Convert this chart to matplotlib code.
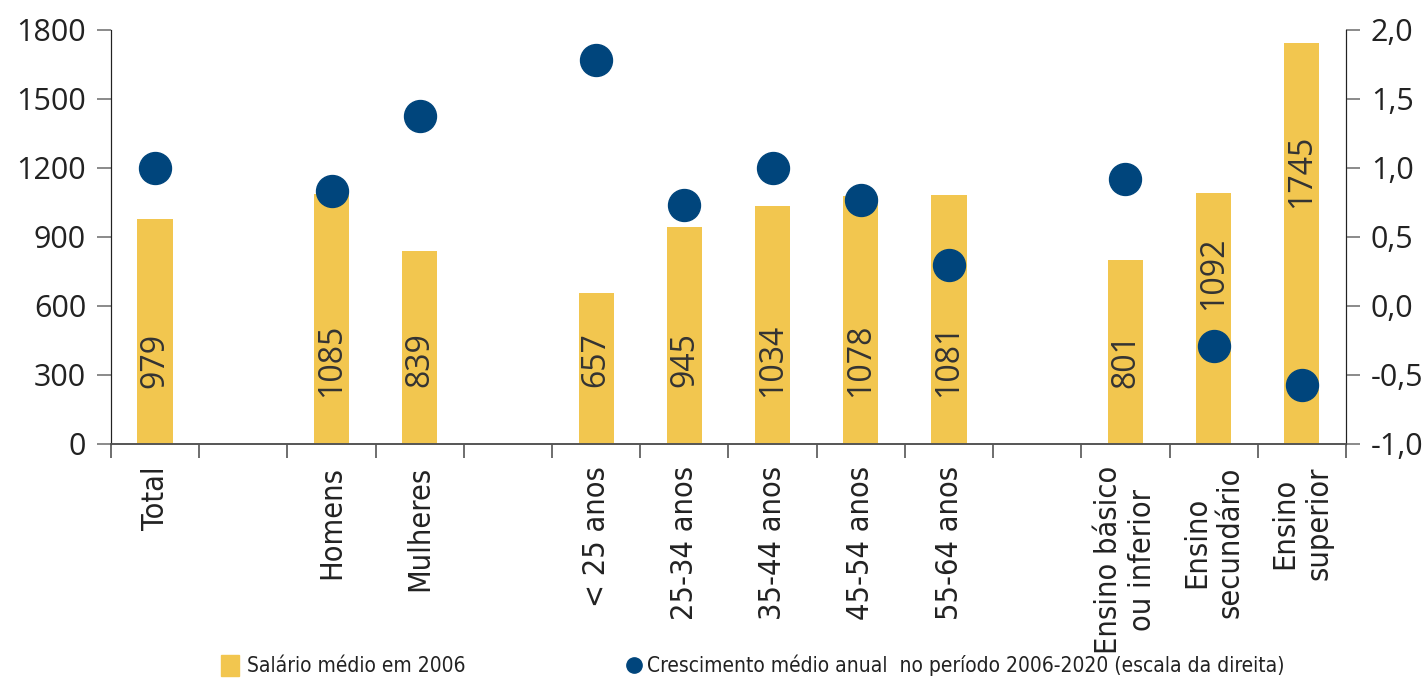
import numpy as np
import matplotlib.pyplot as plt
from matplotlib.lines import Line2D
from matplotlib.patches import Patch

# Data (empty strings / NaN are the gaps between groups)
categories = ['Total', '', 'Homens', 'Mulheres', '', '< 25 anos', '25-34 anos',
              '35-44 anos', '45-54 anos', '55-64 anos', '',
              'Ensino básico\nou inferior', 'Ensino\nsecundário', 'Ensino\nsuperior']
salario = [979, np.nan, 1085, 839, np.nan, 657, 945, 1034, 1078, 1081, np.nan,
           801, 1092, 1745]
crescimento = [1.00, np.nan, 0.83, 1.38, np.nan, 1.78, 0.73, 1.00, 0.77, 0.30,
               np.nan, 0.92, -0.29, -0.57]
left_ticks = [0, 300, 600, 900, 1200, 1500, 1800]
right_ticks = [-1.0, -0.5, 0.0, 0.5, 1.0, 1.5, 2.0]

bar_color = '#F2C64F'
dot_color = '#00457C'
text_color = '#222222'
tick_font = ['Open Sans', 'DejaVu Sans']

x = np.arange(len(categories))

fig = plt.figure(figsize=(14.27, 6.91), dpi=100)
ax = fig.add_axes([0.0778, 0.3575, 0.8654, 0.5991])
ax2 = ax.twinx()

ax.bar(x, salario, width=0.4, color=bar_color, zorder=2)
ax2.plot(x, crescimento, 'o', ms=23, color=dot_color, zorder=3)

# value labels inside the bars
for xi, v, g in zip(x, salario, crescimento):
    if np.isnan(v):
        continue
    ypos = 0.68 * v if g < 0 else 365
    ax.text(xi, ypos, f'{v:.0f}', rotation=90, ha='center', va='center',
            fontsize=23, color='#333333', family=tick_font)

ax.set_xlim(-0.5, len(categories) - 0.5)
ax.set_ylim(0, 1800)
ax2.set_ylim(-1.0, 2.0)

ax.set_yticks(left_ticks)
ax.set_yticklabels([str(t) for t in left_ticks])
ax2.set_yticks(right_ticks)
ax2.set_yticklabels([f'{t:.1f}'.replace('.', ',') for t in right_ticks])

# ticks between categories, labels at category centres
ax.set_xticks(np.arange(-0.5, len(categories), 1.0))
ax.set_xticklabels([])
ax.set_xticks(x, minor=True)
ax.set_xticklabels(categories, minor=True, rotation=90, ha='center', va='top',
                   multialignment='center', fontsize=22, family='DejaVu Sans',
                   fontstretch='condensed', fontweight='light', color=text_color)
ax.tick_params(axis='x', which='minor', length=0, pad=16)
ax.tick_params(axis='x', which='major', length=10, color='#555555', width=1.2)

for a in (ax, ax2):
    a.tick_params(axis='y', length=10, color='#777777', width=1.2, labelsize=22,
                  labelcolor=text_color, pad=8)
    for lab in a.get_yticklabels():
        lab.set_family(tick_font)
    a.spines['top'].set_visible(False)
    a.spines['left'].set_color('#222222')
    a.spines['right'].set_color('#222222')
    a.spines['bottom'].set_color('#555555')
    a.spines['bottom'].set_linewidth(1.2)

# legend: two separate entries, as in the reference
leg_prop = {'family': 'DejaVu Sans', 'stretch': 'condensed',
            'weight': 'light', 'size': 15}
leg1 = fig.legend([Patch(color=bar_color)], ['Salário médio em 2006'],
                  loc='lower left', bbox_to_anchor=(0.142, -0.006),
                  frameon=False, handlelength=0.85, handleheight=1.2,
                  handletextpad=0.4, prop=leg_prop)
leg2 = fig.legend([Line2D([], [], marker='o', ls='', color=dot_color, ms=11)],
                  ['Crescimento médio anual  no período 2006-2020 (escala da direita)'],
                  loc='lower left', bbox_to_anchor=(0.427, -0.006),
                  frameon=False, handlelength=0.6, handletextpad=0.3,
                  prop=leg_prop)
for lg in (leg1, leg2):
    for t in lg.get_texts():
        t.set_color(text_color)

fig.savefig('out.png', dpi=100)
